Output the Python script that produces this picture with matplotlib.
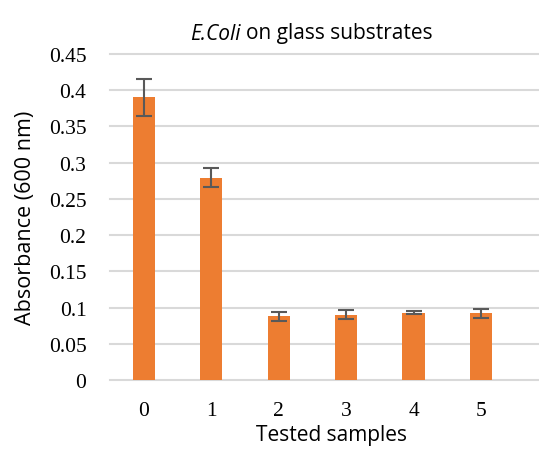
import matplotlib
matplotlib.use("Agg")
from matplotlib import pyplot as plt

# data
samples = ["0", "1", "2", "3", "4", "5"]
absorbance = [0.390, 0.279, 0.088, 0.090, 0.093, 0.092]
errors = [0.025, 0.013, 0.0065, 0.006, 0.0018, 0.0065]
ytick_values = [0, 0.05, 0.1, 0.15, 0.2, 0.25, 0.3, 0.35, 0.4, 0.45]
ytick_labels = ["0", "0.05", "0.1", "0.15", "0.2", "0.25", "0.3", "0.35", "0.4", "0.45"]


def main():
    W, H = 539, 452
    fig = plt.figure(figsize=(W / 100, H / 100), dpi=100)
    # plot area in pixel coordinates: left 110, right 539, top 55, bottom 381
    ax = fig.add_axes([110 / W, (H - 381) / H, (539 - 110) / W, (381 - 55) / H])

    x = list(range(len(samples)))
    ax.bar(x, absorbance, width=0.33, color="#ED7D31", zorder=3)
    ax.errorbar(x, absorbance, yerr=errors, fmt="none", ecolor="#595959",
                elinewidth=1.5, capsize=6, capthick=1.5, zorder=4)

    ax.set_xlim(-0.5, 5.86)
    ax.set_ylim(0, 0.45)
    ax.set_yticks(ytick_values)
    ax.set_yticklabels(ytick_labels, family="Liberation Serif", fontsize=15.5)
    ax.set_xticks(x)
    ax.set_xticklabels(samples, family="Liberation Serif", fontsize=15.5)
    ax.tick_params(axis="both", length=0)
    ax.tick_params(axis="y", pad=17)
    ax.tick_params(axis="x", pad=15)

    # horizontal gridlines
    for v in ytick_values:
        ax.axhline(v, color="#D9D9D9", lw=1.5, zorder=1, clip_on=False)
    for s in ax.spines.values():
        s.set_visible(False)

    ax.set_ylabel("Absorbance (600 nm)", family="Open Sans", fontsize=15.5, labelpad=9)
    ax.set_xlabel("Tested samples", family="Open Sans", fontsize=15, labelpad=5)
    ax.xaxis.set_label_coords((331 - 110) / (539 - 110), -0.135)

    # title: italic species name, then regular text
    t1 = fig.text(190 / W, 1 - 34 / H, "E.Coli", family="Open Sans", style="italic",
                  fontsize=15, ha="left", va="center")
    fig.canvas.draw()
    bb = t1.get_window_extent()
    fig.text((bb.x1 + 5) / W, 1 - 34 / H, "on glass substrates", family="Open Sans",
             fontsize=15, ha="left", va="center")

    plt.savefig("out.png", dpi=100)
    plt.clf()


if __name__ == '__main__':
    main()
